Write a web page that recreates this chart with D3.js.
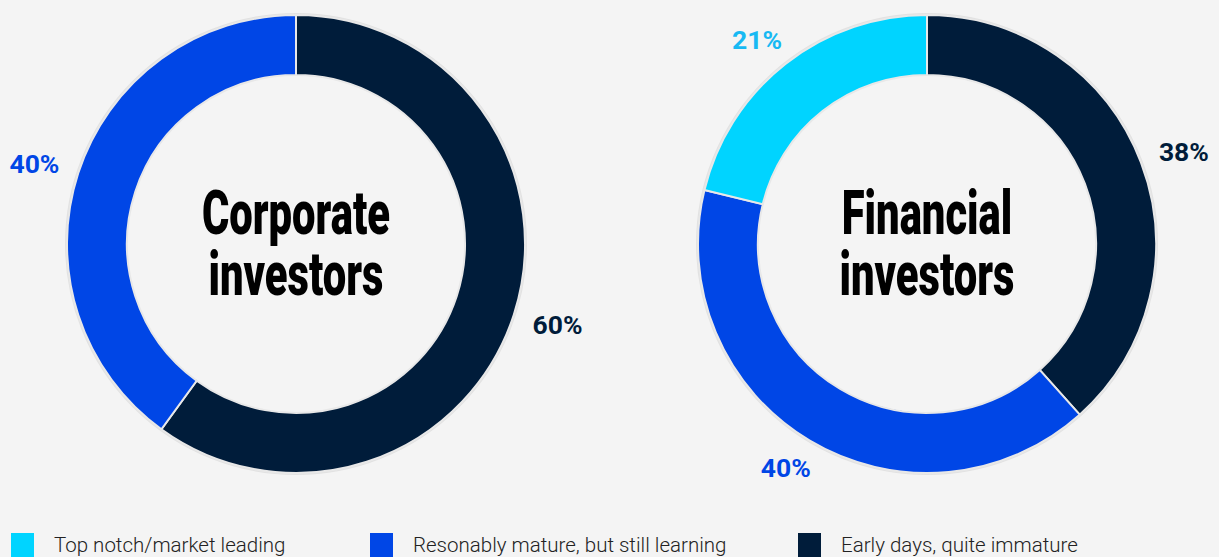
<html>
<head>
<script src="https://cdn.jsdelivr.net/npm/d3@7"></script>
<style>
  body { margin: 0; background: #f4f4f4; }
  svg { display: block; }
</style>
</head>
<body>
<script>
// categories and colours
var categories = ["Top notch/market leading", "Resonably mature, but still learning", "Early days, quite immature"];
var colours = ["#00d4ff", "#0046e6", "#001c3a"];
var labelColours = ["#17b9f3", "#0046e6", "#001c3a"];

// share per investor group, same order as categories
var corporateValues = [0, 40, 60];
var financialValues = [21, 40, 38];

var charts = [
  { title: ["Corporate", "investors"], values: corporateValues, cx: 296 },
  { title: ["Financial", "investors"], values: financialValues, cx: 927 }
];

var width = 1219, height = 557;
var cy = 244, outerR = 229, innerR = 169;
// labels sit on a slightly flattened ring outside the donut
var labelRx = 275, labelRy = 260;

var svg = d3.select("body").append("svg")
  .attr("width", width)
  .attr("height", height);

svg.append("rect").attr("width", width).attr("height", height).attr("fill", "#f4f4f4");

// pie order: dark first, then blue, then cyan (clockwise from 12 o'clock)
var order = [2, 1, 0];

var pie = d3.pie()
  .sort(null)
  .value(function (d) { return d.value; });

var arc = d3.arc().innerRadius(innerR).outerRadius(outerR);

charts.forEach(function (c) {
  var rows = order.map(function (i) { return { idx: i, value: c.values[i] }; })
    .filter(function (d) { return d.value > 0; });

  var g = svg.append("g").attr("transform", "translate(" + c.cx + "," + cy + ")");

  // faint outer halo
  g.append("circle").attr("r", outerR + 1).attr("fill", "none").attr("stroke", "#e2e2e2").attr("stroke-width", 2);

  var arcs = pie(rows);

  g.selectAll("path.slice").data(arcs).enter().append("path")
    .attr("class", "slice")
    .attr("d", arc)
    .attr("fill", function (d) { return colours[d.data.idx]; })
    .attr("stroke", "#e8e8e8")
    .attr("stroke-width", 2);

  g.selectAll("text.pct").data(arcs).enter().append("text")
    .attr("class", "pct")
    .attr("transform", function (d) {
      var a = (d.startAngle + d.endAngle) / 2;
      return "translate(" + (labelRx * Math.sin(a)) + "," + (-labelRy * Math.cos(a)) + ")";
    })
    .attr("dy", "0.36em")
    .attr("text-anchor", "middle")
    .attr("font-family", "Roboto, sans-serif")
    .attr("font-weight", 700)
    .attr("font-size", 26.5)
    .attr("fill", function (d) { return labelColours[d.data.idx]; })
    .text(function (d) { return d.data.value + "%"; });

  // centre title, condensed heavy type
  var t = g.append("g").attr("transform", "scale(0.685,1)");
  c.title.forEach(function (line, i) {
    t.append("text")
      .attr("x", 0)
      .attr("y", -10 + i * 61)
      .attr("text-anchor", "middle")
      .attr("font-family", "Roboto, sans-serif")
      .attr("font-weight", 900)
      .attr("font-size", 61)
      .attr("fill", "#000")
      .text(line);
  });
});

// legend
var legendX = [11, 370, 798];
var legend = svg.selectAll("g.legend").data(categories).enter().append("g")
  .attr("class", "legend")
  .attr("transform", function (d, i) { return "translate(" + legendX[i] + ",533)"; });

legend.append("rect")
  .attr("width", 23).attr("height", 24)
  .attr("fill", function (d, i) { return colours[i]; });

legend.append("text")
  .attr("x", 43).attr("y", 19)
  .attr("font-family", "Roboto, sans-serif")
  .attr("font-weight", 300)
  .attr("font-size", 20.5)
  .attr("fill", "#222")
  .text(function (d) { return d; });
</script>
</body>
</html>
